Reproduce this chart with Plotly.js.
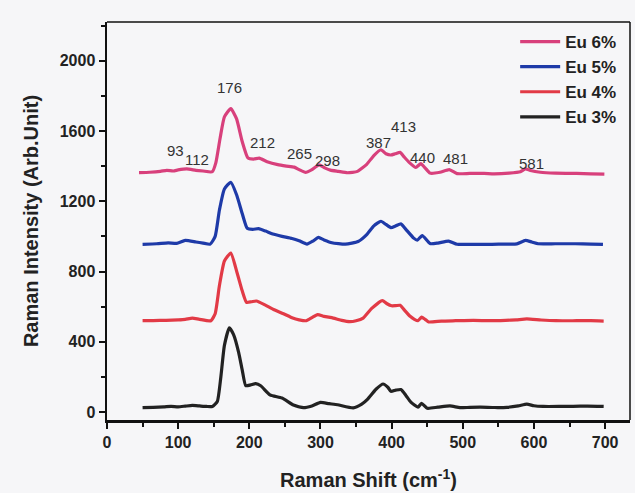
<!DOCTYPE html>
<html>
<head>
<meta charset="utf-8">
<script src="https://cdn.plot.ly/plotly-3.0.1.min.js"></script>
<style>html,body{margin:0;padding:0;background:#f6f6f8;}#chart{width:635px;height:493px;}</style>
</head>
<body>
<div id="chart"></div>
<script>
// Eu 3%
const x3 = [50,65,80,90,100,110,120,130,140,148,155,160,165,172,178,185,190,195,202,209,216,229,246,262,276,288,300,312,324,346,358,366,378,388,395,399,406,413,420,427,437,442,450,465,482,496,510,525,545,562,578,590,600,613,635,655,675,698];
const y3 = [25,27,30,33,30,34,38,35,32,32,60,200,380,480,440,340,240,150,155,162,150,98,80,40,25,35,55,48,42,24,45,72,130,160,140,118,125,128,95,57,28,50,22,28,35,25,27,28,26,27,35,45,36,32,32,33,34,32];
// Eu 4%
const x4 = [50,65,83,100,110,120,130,146,152,158,165,174,183,190,196,203,210,222,234,248,261,270,280,288,296,305,318,330,341,350,360,372,387,393,400,406,412,418,426,432,437,442,447,452,470,490,515,538,560,575,590,610,631,660,680,698];
const y4 = [520,521,522,525,528,535,528,520,560,720,860,905,790,690,625,628,632,610,584,560,535,525,520,538,555,545,535,522,515,520,535,590,635,618,605,606,608,580,545,528,520,540,528,513,518,520,522,520,522,525,530,524,520,520,520,518];
// Eu 5%
const x5 = [50,70,86,98,110,125,135,145,152,158,165,174,182,190,197,205,213,223,233,246,260,270,281,290,297,305,316,335,353,365,375,385,392,399,406,413,420,431,436,443,454,465,480,492,515,541,560,576,588,597,606,630,658,680,697];
const y5 = [955,958,963,960,977,968,962,956,1000,1150,1270,1308,1238,1130,1046,1040,1044,1030,1013,1000,988,975,956,975,994,980,964,956,971,1010,1060,1086,1068,1050,1060,1071,1040,990,978,1005,959,962,973,955,955,955,956,957,977,968,958,958,958,956,954];
// Eu 6%
const x6 = [45,60,75,84,93,100,112,125,135,148,153,159,165,174,182,190,198,206,214,225,240,252,263,270,279,288,298,306,314,325,338,352,365,375,385,392,399,405,412,418,425,434,441,447,454,468,481,492,510,530,544,565,581,588,595,609,630,660,680,699];
const y6 = [1363,1365,1370,1376,1372,1378,1384,1376,1372,1368,1420,1560,1680,1727,1670,1540,1447,1440,1445,1425,1408,1400,1394,1380,1364,1380,1407,1390,1377,1370,1362,1370,1410,1460,1493,1470,1463,1470,1478,1450,1420,1392,1414,1390,1360,1365,1380,1357,1358,1358,1356,1360,1368,1384,1375,1365,1360,1358,1356,1354];

const seriesNames = ['Eu 6%','Eu 5%','Eu 4%','Eu 3%'];
const peakLabels = ['93','112','176','212','265','298','387','413','440','481','581'];
const peakLabelX = [96,127,172,219,271,310,381,417,444,490,596];
const peakLabelY = [1490,1440,1850,1535,1473,1434,1533,1625,1447,1441,1412];

const xTicks = [0,100,200,300,400,500,600,700];
const yTicks = [0,400,800,1200,1600,2000];

const colors = ['#d8407c','#1e3aa8','#e23a46','#222222'];
const xs = [x6,x5,x4,x3];
const ys = [y6,y5,y4,y3];

const FONT = 'Liberation Sans, Arial, sans-serif';

const traces = seriesNames.map((n,i)=>({
  x: xs[i], y: ys[i], name: n, type:'scatter', mode:'lines',
  line:{color:colors[i], width:3.2, shape:'spline', smoothing:0.5}
}));

const annotations = peakLabels.map((t,i)=>({
  x: peakLabelX[i], y: peakLabelY[i], xref:'x', yref:'y', text:t, showarrow:false,
  font:{family:FONT, size:15, color:'#333'}
}));

const tickFont = {family:FONT, size:16, color:'#222', weight:'bold'};
const layout = {
  width:635, height:493,
  margin:{l:107, r:5, t:22, b:73},
  paper_bgcolor:'#f6f6f8', plot_bgcolor:'#f6f6f8',
  showlegend:true,
  legend:{x:0.985, xanchor:'right', y:0.995, yanchor:'top', bgcolor:'rgba(0,0,0,0)',
    font:{family:FONT, size:17, color:'#222', weight:'bold'},
    tracegroupgap:0, itemwidth:40},
  xaxis:{range:[0,735], tickvals:xTicks, ticktext:xTicks.map(String), ticks:'outside', ticklen:6, tickwidth:2,
    tickcolor:'#111', showline:true, linecolor:'#111', linewidth:2.5, showgrid:false, zeroline:false,
    minor:{tickvals:[50,150,250,350,450,550,650], ticks:'outside', ticklen:4, tickwidth:2, tickcolor:'#111'},
    tickfont:tickFont,
    title:{text:'Raman Shift (cm<sup>-1</sup>)', standoff:24,
      font:{family:FONT, size:20, color:'#222', weight:'bold'}}},
  yaxis:{range:[-45,2220], tickvals:yTicks, ticktext:yTicks.map(String), ticks:'outside', ticklen:6, tickwidth:2,
    tickcolor:'#111', showline:true, linecolor:'#111', linewidth:2.5, showgrid:false, zeroline:false,
    minor:{tickvals:[200,600,1000,1400,1800,2200], ticks:'outside', ticklen:4, tickwidth:2, tickcolor:'#111'},
    tickfont:tickFont,
    title:{text:'Raman Intensity (Arb.Unit)', standoff:16,
      font:{family:FONT, size:20, color:'#222', weight:'bold'}}},
  shapes:[
    {type:'line', xref:'paper', yref:'paper', x0:0, x1:1, y0:1, y1:1, line:{color:'#111', width:1.5}},
    {type:'line', xref:'paper', yref:'paper', x0:1, x1:1, y0:0, y1:1, line:{color:'#111', width:1.5}}
  ],
  annotations: annotations
};
Plotly.newPlot('chart', traces, layout, {displayModeBar:false, staticPlot:true});
</script>
</body>
</html>
